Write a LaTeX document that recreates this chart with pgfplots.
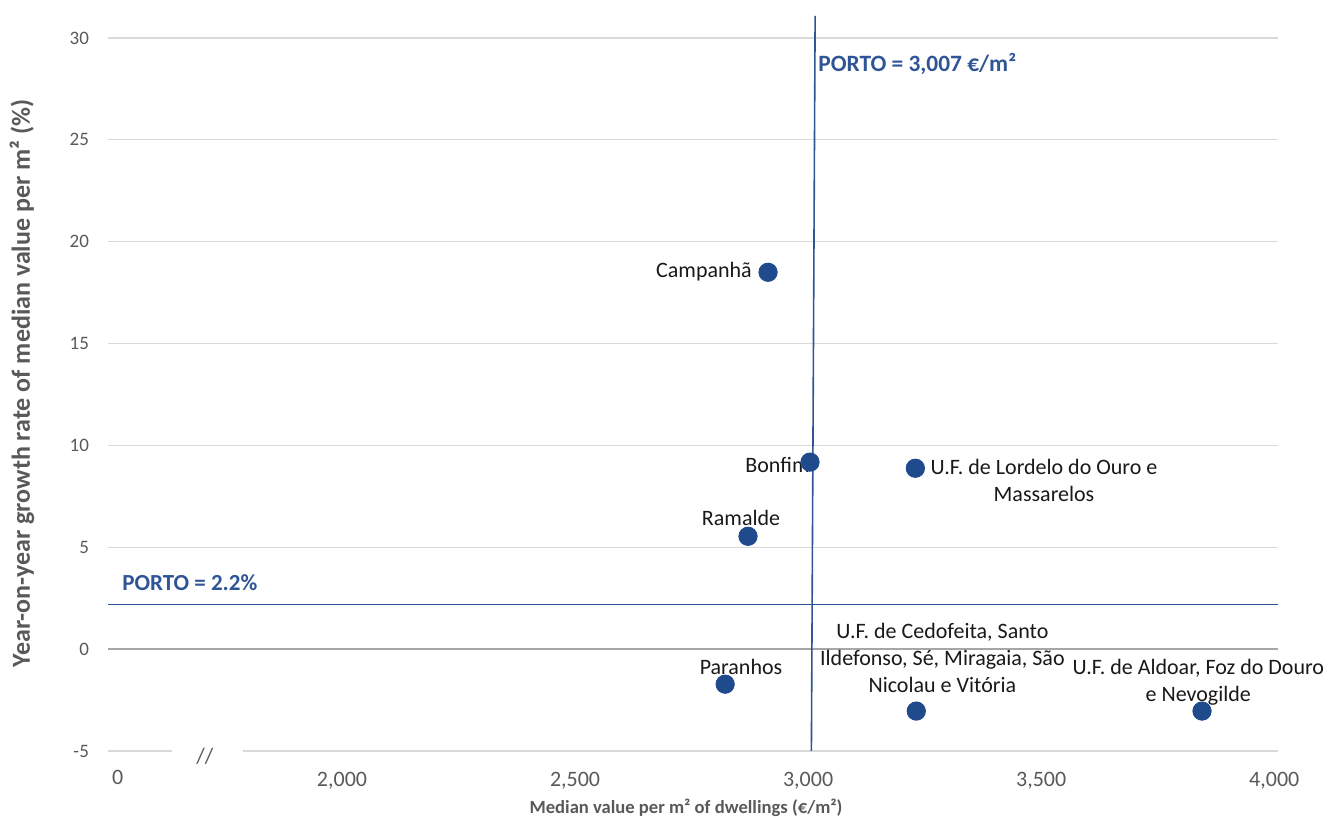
\documentclass[border=0pt]{standalone}
\usepackage{fontspec}
\setmainfont{Carlito}
\usepackage{pgfplots}
\pgfplotsset{compat=1.18}
\definecolor{dblue}{HTML}{1F4A8C}
\definecolor{lblue}{HTML}{2F5597}
\definecolor{tgray}{HTML}{595959}
\definecolor{ggray}{HTML}{D9D9D9}
\begin{document}
\begin{tikzpicture}
\path[use as bounding box] (-54pt,-33.5pt) rectangle (610pt,375.5pt);
\begin{axis}[
  scale only axis,
  width=585pt, height=367.5pt,
  xmin=1498, xmax=4008,
  ymin=-5, ymax=31.08,
  clip=false,
  axis line style={draw=none},
  tick style={draw=none},
  xtick={2000,2500,3000,3500,4000},
  xticklabels={2{,}000,2{,}500,3{,}000,3{,}500,4{,}000},
  extra x ticks={1519},
  extra x tick labels={0},
  extra x tick style={xticklabel style={yshift=2pt}, grid=none},
  xticklabel style={anchor=center, yshift=-15pt, font=\fontsize{11pt}{13pt}\selectfont, text=tgray},
  ytick={-5,0,5,10,15,20,25,30},
  yticklabel style={anchor=east, xshift=-6pt, font=\fontsize{9.5pt}{11pt}\selectfont, text=tgray},
  ymajorgrids,
  major grid style={ggray, line width=0.6pt},
  /pgf/number format/assume math mode=true,
  xlabel={Median value per m² of dwellings (€/m²)},
  ylabel={Year-on-year growth rate of median value per m² (\%)},
  every axis x label/.style={at={(axis description cs:0.5,0)}, anchor=center, yshift=-28.5pt, xshift=-3.5pt, font=\bfseries\fontsize{9.3pt}{11pt}\selectfont, text=tgray},
  every axis y label/.style={at={(axis description cs:0,0.5)}, anchor=center, rotate=90, yshift=43pt, font=\bfseries\fontsize{13pt}{15pt}\selectfont, text=tgray},
]
% break in the bottom gridline
\fill[white] (axis cs:1635,-5.4) rectangle (axis cs:1788,-4.6);
\node[font=\fontsize{11pt}{13pt}\selectfont, text=tgray] at (axis cs:1706,-5.25) {//};
% zero line
\addplot[draw=black!35, line width=0.7pt, forget plot] coordinates {(1498,0) (4008,0)};
% reference lines
\addplot[draw=lblue, line width=0.8pt, forget plot] coordinates {(1498,2.2) (4008,2.2)};
\addplot[draw=lblue, line width=0.8pt, forget plot] coordinates {(3007,-5) (3015,31.08)};
% data
\addplot[only marks, mark=*, mark size=4.6pt, mark options={draw=dblue, fill=dblue}] coordinates {
  (2914,18.5) (3004,9.18) (3230,8.88) (2871,5.54) (2822,-1.72) (3232,-3.04) (3845,-3.04)
};
\begin{scope}[every node/.style={font=\fontsize{11pt}{13.5pt}\selectfont, text=black!90, align=center, inner sep=0pt}]
\node[anchor=east] at (axis cs:2880,18.55) {Campanhã};
\node[anchor=east] at (axis cs:3004,9.05) {Bonfim};
\node at (axis cs:3506,8.29) {U.F. de Lordelo do Ouro e\\Massarelos};
\node at (axis cs:2856,6.43) {Ramalde};
\node at (axis cs:2856,-0.88) {Paranhos};
\node at (axis cs:3288,-0.44) {U.F. de Cedofeita, Santo\\Ildefonso, Sé, Miragaia, São\\Nicolau e Vitória};
\node at (axis cs:3837,-1.62) {U.F. de Aldoar, Foz do Douro\\e Nevogilde};
\end{scope}
\node[anchor=west, inner sep=0pt, font=\bfseries\fontsize{11.7pt}{13pt}\selectfont, text=lblue] at (axis cs:3021,28.7) {PORTO = 3,007 €/m²};
\node[anchor=west, inner sep=0pt, font=\bfseries\fontsize{11.5pt}{13pt}\selectfont, text=lblue] at (axis cs:1528,3.24) {PORTO = 2.2\%};
\end{axis}
\end{tikzpicture}
\end{document}
